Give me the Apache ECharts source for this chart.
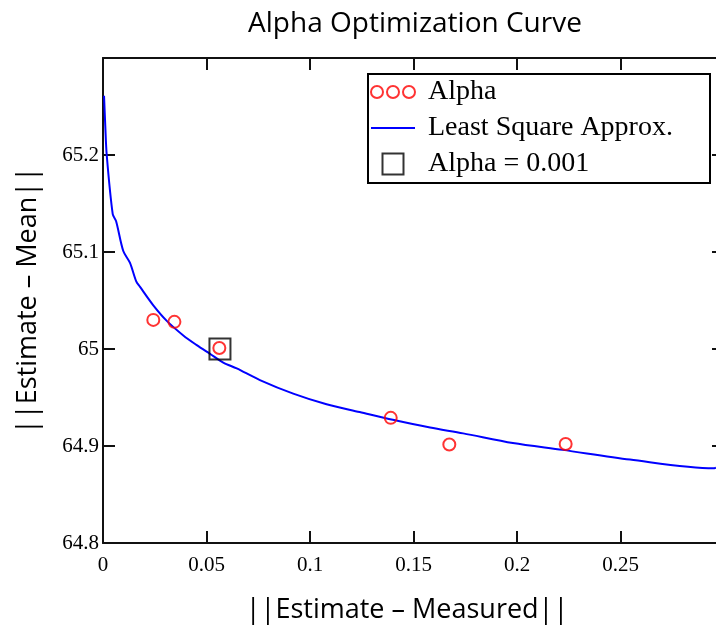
<!DOCTYPE html>
<html>
<head>
<meta charset="utf-8">
<script src="https://cdn.jsdelivr.net/npm/echarts@6/dist/echarts.min.js"></script>
<style>
html,body{margin:0;padding:0;background:#fff;}
#chart{width:716px;height:626px;}
</style>
</head>
<body>
<div id="chart"></div>
<script>
// Least-squares approximation curve
const curveX = [0.0005, 0.0011, 0.0018, 0.0047, 0.0063, 0.0098, 0.013, 0.016, 0.0179, 0.0243, 0.0308, 0.0388, 0.0453, 0.0517, 0.0581, 0.0646, 0.0758, 0.0919, 0.108, 0.124, 0.140, 0.158, 0.174, 0.198, 0.222, 0.2546, 0.2949, 0.2961];
const curveY = [65.261, 65.230, 65.200, 65.139, 65.132, 65.101, 65.089, 65.070, 65.064, 65.045, 65.029, 65.014, 65.004, 64.995, 64.986, 64.980, 64.968, 64.954, 64.943, 64.935, 64.927, 64.919, 64.913, 64.903, 64.896, 64.886, 64.877, 64.8776];
// Alpha points
const alphaX = [0.0243, 0.0345, 0.0562, 0.139, 0.1673, 0.2235];
const alphaY = [65.030, 65.028, 65.001, 64.929, 64.9015, 64.902];
// Chosen alpha (square marker)
const chosenX = [0.0565];
const chosenY = [65.000];
// Tick labels
const xTickLabels = ['0', '0.05', '0.1', '0.15', '0.2', '0.25'];
const yTickLabels = ['64.8', '64.9', '65', '65.1', '65.2'];

const titleText = 'Alpha Optimization Curve';
const xName = '||Estimate \u2013 Measured||';
const yName = '||Estimate \u2013 Mean||';
const seriesNames = ['Alpha', 'Least Square Approx.', 'Alpha = 0.001'];

const zip = (xs, ys) => xs.map((x, i) => [x, ys[i]]);

const sansFont = 'Open Sans';
const serifFont = 'Liberation Serif';
const axisColor = '#111';

const circlesIcon = 'path://M0,6a6,6 0 1,0 12,0a6,6 0 1,0 -12,0M16,6a6,6 0 1,0 12,0a6,6 0 1,0 -12,0M32,6a6,6 0 1,0 12,0a6,6 0 1,0 -12,0';
const lineIcon = 'path://M0,0L44,0L44,2L0,2Z';
const squareIcon = 'path://M0,0L20,0L20,20L0,20Z';

const chart = echarts.init(document.getElementById('chart'), null, {renderer: 'canvas'});

const tickStyle = {show: true, inside: true, length: 12, lineStyle: {color: axisColor, width: 2}};
const lineStyle = {show: true, onZero: false, lineStyle: {color: axisColor, width: 2}};

chart.setOption({
  animation: false,
  backgroundColor: '#fff',
  title: {
    text: titleText,
    left: 415,
    top: 10,
    textAlign: 'center',
    padding: 0,
    textStyle: {fontFamily: sansFont, fontSize: 28, fontWeight: 'normal', color: '#000'}
  },
  grid: {left: 103, right: -8, top: 58, bottom: 83, outerBoundsMode: 'none', containLabel: false},
  legend: {
    orient: 'vertical',
    left: 370,
    top: 78,
    padding: 0,
    itemGap: 8,
    itemWidth: 44,
    itemHeight: 21,
    selectedMode: false,
    textStyle: {fontFamily: serifFont, fontSize: 28, color: '#000', lineHeight: 28, padding: [0, 0, 0, 8]},
    data: [
      {name: seriesNames[0], icon: circlesIcon},
      {name: seriesNames[1], icon: lineIcon},
      {name: seriesNames[2], icon: squareIcon}
    ]
  },
  graphic: [{
    type: 'rect',
    z: 3,
    shape: {x: 368, y: 74, width: 342, height: 109},
    style: {fill: '#fff', stroke: '#000', lineWidth: 2}
  }],
  xAxis: [{
    type: 'value', position: 'bottom', min: 0, max: 0.3, interval: 0.05,
    axisLine: lineStyle, axisTick: tickStyle, splitLine: {show: false},
    axisLabel: {
      margin: 12, fontFamily: serifFont, fontSize: 21, color: '#000',
      formatter: (v, i) => xTickLabels[i] !== undefined ? xTickLabels[i] : ''
    },
    name: xName, nameLocation: 'middle', nameGap: 54,
    nameTextStyle: {fontFamily: sansFont, fontSize: 27, color: '#000', padding: [0, 13, 0, 0]}
  }, {
    type: 'value', position: 'top', min: 0, max: 0.3, interval: 0.05,
    axisLine: lineStyle, axisTick: tickStyle, splitLine: {show: false},
    axisLabel: {show: false}
  }],
  yAxis: [{
    type: 'value', position: 'left', min: 64.8, max: 65.3, interval: 0.1,
    axisLine: lineStyle, axisTick: tickStyle, splitLine: {show: false},
    axisLabel: {
      margin: 4, fontFamily: serifFont, fontSize: 21, color: '#000',
      formatter: (v, i) => yTickLabels[i] !== undefined ? yTickLabels[i] : ''
    },
    name: yName, nameLocation: 'middle', nameGap: 61, nameRotate: 90,
    nameTextStyle: {fontFamily: sansFont, fontSize: 27, color: '#000'}
  }, {
    type: 'value', position: 'right', min: 64.8, max: 65.3, interval: 0.1,
    axisLine: lineStyle, axisTick: tickStyle, splitLine: {show: false},
    axisLabel: {show: false}
  }],
  series: [{
    name: seriesNames[1],
    type: 'line',
    data: zip(curveX, curveY),
    symbol: 'none',
    smooth: 0.3,
    lineStyle: {color: '#0000ff', width: 2},
    itemStyle: {color: '#0000ff'},
    z: 2
  }, {
    name: seriesNames[2],
    type: 'scatter',
    data: zip(chosenX, chosenY),
    symbol: 'rect',
    symbolSize: 21,
    itemStyle: {color: 'transparent', borderColor: '#000', borderWidth: 2},
    z: 3
  }, {
    name: seriesNames[0],
    type: 'scatter',
    data: zip(alphaX, alphaY),
    symbol: 'circle',
    symbolSize: 12,
    itemStyle: {color: 'transparent', borderColor: '#ff0000', borderWidth: 2},
    z: 4
  }]
});
</script>
</body>
</html>
